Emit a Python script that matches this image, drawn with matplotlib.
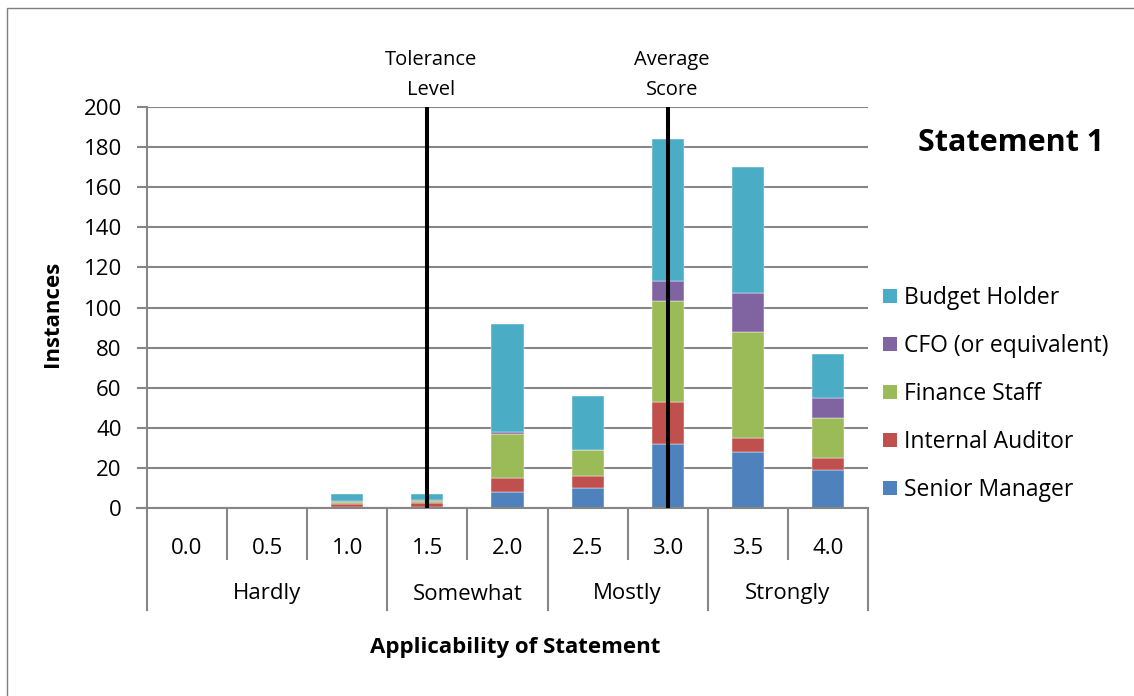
#!/usr/bin/env python3
# -*- coding: utf-8 -*-
"""
Statement 1: gestapelte Säulen je Anwendbarkeitsstufe mit
Toleranz- und Durchschnittslinie, mehrstufige x-Achse im Excel-Stil.
"""
import matplotlib
matplotlib.use("Agg")
import matplotlib.pyplot as plt
import matplotlib.patches as mpatches

plt.rcParams["font.family"] = ["Open Sans", "DejaVu Sans"]

# ───────────────────────────────────────────────────────────────────────
# Daten
# ───────────────────────────────────────────────────────────────────────
scores = ["0.0", "0.5", "1.0", "1.5", "2.0", "2.5", "3.0", "3.5", "4.0"]
groups = ["Hardly", "Somewhat", "Mostly", "Strongly"]
group_sizes = [3, 2, 2, 2]

series_names = ["Senior Manager", "Internal Auditor", "Finance Staff",
                "CFO (or equivalent)", "Budget Holder"]
senior_manager   = [0, 0, 0.5, 0.5, 8, 10, 32, 28, 19]
internal_auditor = [0, 0, 1.5, 2, 7, 6, 21, 7, 6]
finance_staff    = [0, 0, 1, 1, 22, 13, 50, 53, 20]
cfo              = [0, 0, 0.5, 0.5, 1, 0, 10, 19, 10]
budget_holder    = [0, 0, 3.5, 3, 54, 27, 71, 63, 22]

tolerance_score = "1.5"
average_score   = "3.0"

colors = ["#4F81BD", "#C0504D", "#9BBB59", "#8064A2", "#4BACC6"]
GRID = "#868686"

# ───────────────────────────────────────────────────────────────────────
# Plot
# ───────────────────────────────────────────────────────────────────────
W, H = 1134, 696
fig = plt.figure(figsize=(W / 100, H / 100), dpi=100)
ax = fig.add_axes([147 / W, 1 - 508 / H, (868 - 147) / W, (508 - 107) / H])

x = list(range(len(scores)))
bottom = [0.0] * len(scores)
stack = [senior_manager, internal_auditor, finance_staff, cfo, budget_holder]
for vals, name, col in zip(stack, series_names, colors):
    ax.bar(x, vals, width=0.4, bottom=bottom, color=col,
           edgecolor="white", linewidth=0.3, label=name, zorder=3)
    bottom = [b + v for b, v in zip(bottom, vals)]

ax.set_xlim(-0.5, len(scores) - 0.5)
ax.set_ylim(0, 200)
ax.set_yticks(range(0, 201, 20))
ax.yaxis.grid(True, color=GRID, lw=1.5, zorder=0)
ax.set_axisbelow(True)
for side in ["top", "right", "bottom"]:
    ax.spines[side].set_visible(False)
ax.spines["left"].set_color(GRID)
ax.spines["left"].set_linewidth(1.5)
ax.tick_params(axis="y", direction="out", length=7.2, width=1.5,
               color=GRID, labelsize=16, pad=11)
ax.set_xticks([])

# Referenzlinien
for lbl, txt in [(tolerance_score, ["Tolerance", "Level"]),
                 (average_score, ["Average", "Score"])]:
    xi = scores.index(lbl)
    ax.axvline(xi, color="black", lw=2.9, zorder=5)
    ax.text(xi + 0.05, 1 + 47 / 401, txt[0], transform=ax.get_xaxis_transform(),
            ha="center", va="center", fontsize=14.5)
    ax.text(xi + 0.05, 1 + 17 / 401, txt[1], transform=ax.get_xaxis_transform(),
            ha="center", va="center", fontsize=14.5)

# Mehrstufige x-Achse
tr = ax.get_xaxis_transform()
ax.plot([-0.5 - 10 / 80.1, len(scores) - 0.5], [0, 0], color=GRID, lw=1.5,
        transform=tr, clip_on=False, zorder=4)
row1 = -51 / 401
row2 = -102 / 401
for i, s in enumerate(scores):
    ax.text(i, -40 / 401, s, transform=tr, ha="center", va="center",
            fontsize=16)
edges = [-0.5]
for n in group_sizes:
    edges.append(edges[-1] + n)
for i in range(len(scores) + 1):
    xb = i - 0.5
    y_end = row2 if xb in edges else row1
    ax.plot([xb, xb], [0, y_end], color=GRID, lw=1.5, transform=tr,
            clip_on=False)
for g, a, b in zip(groups, edges[:-1], edges[1:]):
    ax.text((a + b) / 2, -86 / 401, g, transform=tr, ha="center",
            va="center", fontsize=16)

# Beschriftungen
fig.text(515 / W, 1 - 647 / H, "Applicability of Statement", ha="center",
         va="center", fontsize=16, fontweight="bold")
fig.text(52 / W, 1 - 314 / H, "Instances", rotation=90, ha="center",
         va="center", fontsize=16, fontweight="bold")
fig.text(1011 / W, 1 - 143 / H, "Statement 1", ha="center", va="center",
         fontsize=22, fontweight="bold")

# Legende (umgekehrte Reihenfolge)
handles = [mpatches.Patch(facecolor=c, label=n)
           for n, c in zip(series_names, colors)][::-1]
fig.legend(handles=handles, loc="center left",
           bbox_to_anchor=(883 / W, 1 - 394 / H), frameon=False,
           fontsize=16.5, handlelength=0.6, handleheight=0.6,
           handletextpad=0.3, labelspacing=1.05, borderpad=0,
           borderaxespad=0)

# Rahmen
fig.add_artist(mpatches.Rectangle((7 / W, -0.1), 1.2, 1.1 - 8 / H,
                                  transform=fig.transFigure, fill=False,
                                  edgecolor="#7f7f7f", lw=1))

fig.savefig("out.png", dpi=100)
